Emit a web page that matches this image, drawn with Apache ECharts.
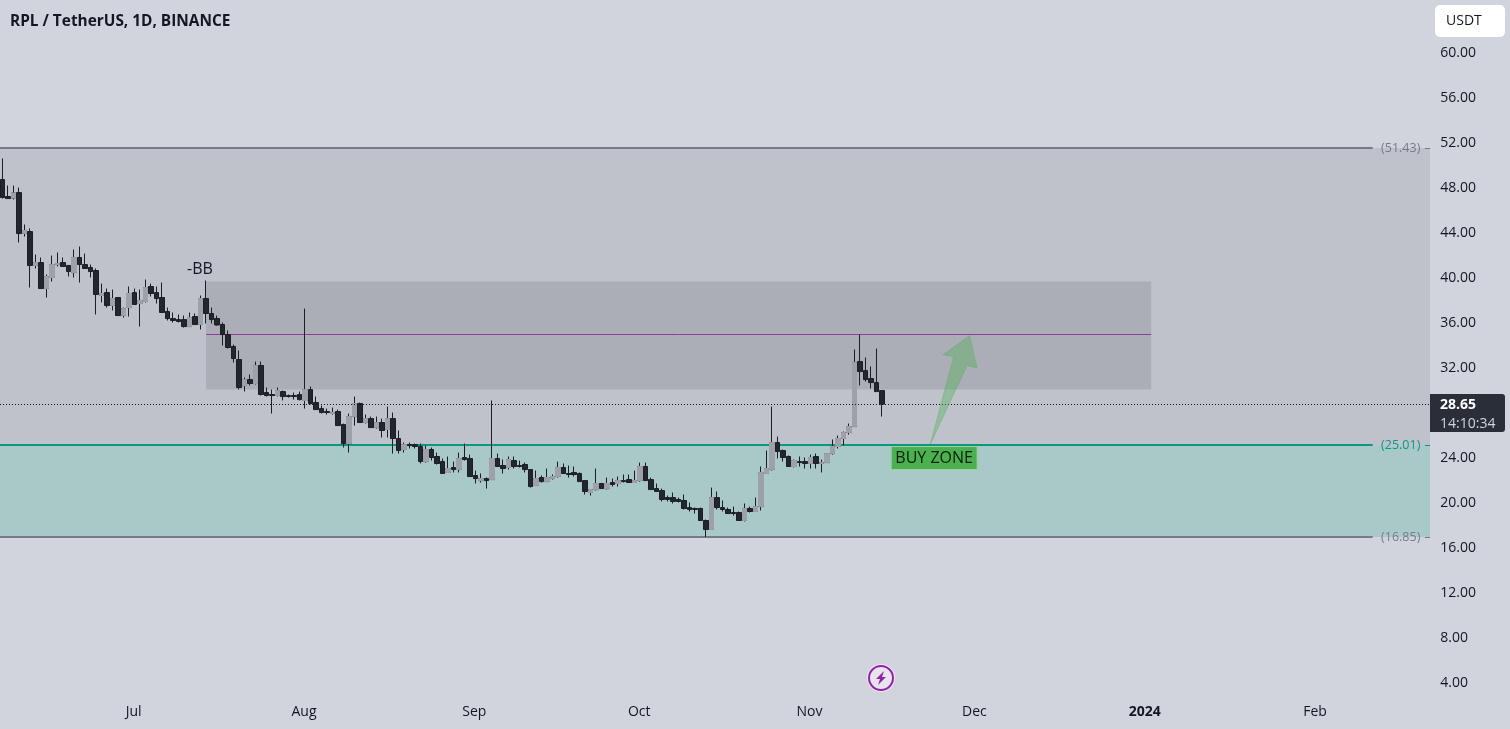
<!DOCTYPE html>
<html>
<head>
<meta charset="utf-8">
<title>RPL / TetherUS</title>
<script src="https://cdn.jsdelivr.net/npm/echarts@6/dist/echarts.min.js"></script>
<style>
  html, body { margin: 0; padding: 0; background: #d1d4dc; }
  #chart { width: 1510px; height: 729px; }
</style>
</head>
<body>
<div id="chart"></div>
<script>
var titleText = "RPL / TetherUS, 1D, BINANCE";

// daily candles from 2023-06-07: open, close, low, high
var ohlc = [
  [48.62,47.02,46.93,50.49],[47.11,46.93,46.93,48.09],[46.98,47.42,46.84,48.09],[47.46,43.82,43.02,47.91],
  [43.82,44.09,43.55,44.62],[44.0,40.98,39.02,44.27],[40.98,41.24,40.71,41.95],[41.24,38.93,38.93,41.69],
  [38.93,40.0,38.13,40.18],[39.91,41.06,39.55,41.86],[41.06,41.15,40.89,42.13],[41.24,40.89,40.89,41.69],
  [40.98,40.44,40.0,40.98],[40.35,41.69,39.91,42.4],[41.69,41.06,39.46,42.66],[41.06,40.71,40.71,42.04],
  [40.8,40.44,39.91,41.06],[40.53,38.4,36.62,40.71],[38.31,38.49,37.69,39.37],[38.57,37.42,37.24,38.93],
  [37.42,38.04,36.98,38.84],[38.13,36.53,36.53,38.13],[36.53,37.15,36.35,37.24],[37.24,38.49,36.44,39.11],
  [38.57,37.51,37.51,38.93],[37.6,37.87,35.55,38.84],[37.78,39.02,37.69,39.73],[39.11,38.49,38.22,39.37],
  [38.57,38.04,37.6,39.11],[38.13,36.8,36.8,39.46],[36.89,36.26,36.09,37.24],[36.26,36.09,35.91,36.8],
  [36.17,36.0,35.91,36.62],[36.17,35.55,35.46,36.53],[35.55,36.35,35.55,36.8],[36.44,35.73,35.73,36.71],
  [35.73,38.04,35.29,38.31],[38.04,36.71,35.82,39.64],[36.71,36.17,35.82,37.24],[36.26,35.69,35.64,36.53],
  [35.73,34.84,33.86,35.91],[34.84,33.69,33.6,35.2],[33.78,32.71,32.35,33.95],[32.62,30.13,29.95,33.42],
  [30.31,30.84,29.78,31.02],[30.84,30.49,30.31,31.29],[30.49,32.09,30.4,32.44],[32.09,29.51,29.42,32.44],
  [29.69,29.42,29.33,30.13],[29.51,29.42,27.82,29.95],[29.42,29.86,29.33,30.13],[29.77,29.33,28.98,29.86],
  [29.42,29.33,29.24,29.51],[29.42,29.33,29.06,29.68],[29.51,29.06,28.98,29.77],[28.98,29.95,28.26,37.15],
  [29.95,28.71,28.62,30.22],[28.8,28.17,28.17,29.33],[28.26,27.91,27.82,28.53],[28.0,27.91,27.73,28.26],
  [27.82,27.91,27.73,28.35],[28.0,26.75,26.75,28.17],[26.84,25.15,24.8,26.93],[25.15,27.55,24.35,27.82],
  [27.55,28.71,26.75,29.33],[28.71,27.02,27.02,28.8],[27.02,27.37,26.93,27.73],[27.37,26.57,26.57,27.55],
  [26.57,27.02,26.48,27.55],[27.02,26.31,25.69,27.37],[26.4,27.37,25.69,28.44],[27.37,25.6,24.26,27.91],
  [25.6,24.53,24.26,26.31],[24.62,25.06,24.35,25.24],[25.06,24.97,24.71,25.24],[25.06,24.89,24.71,25.15],
  [24.89,23.55,23.38,25.15],[23.55,24.62,23.46,24.97],[24.62,23.91,23.64,24.8],[24.0,23.38,23.29,24.35],
  [23.55,22.49,22.49,23.82],[22.58,22.93,22.58,24.0],[23.02,22.84,22.58,23.55],[22.84,23.82,22.58,24.35],
  [23.91,23.73,23.64,25.15],[23.82,22.22,22.22,24.17],[22.31,22.04,21.6,22.75],[21.86,22.04,21.69,22.49],
  [22.04,21.86,21.15,22.13],[21.95,23.82,21.95,28.98],[23.82,23.11,23.11,24.26],[23.2,22.93,22.49,23.73],
  [23.02,23.73,22.84,24.0],[23.64,23.11,22.93,24.0],[23.2,23.11,23.02,23.64],[23.29,22.84,22.58,23.46],
  [22.84,21.33,21.24,22.84],[21.42,22.04,21.42,22.75],[22.13,21.77,21.69,22.31],[21.77,22.13,21.77,22.93],
  [22.04,22.22,21.95,22.4],[22.22,23.02,22.13,23.55],[23.02,22.49,22.49,23.38],[22.49,22.4,22.13,23.2],
  [22.58,22.4,22.22,23.11],[22.49,21.77,21.77,22.58],[21.86,20.89,20.62,21.86],[20.8,21.06,20.53,21.06],
  [21.06,21.6,20.97,22.93],[21.6,21.15,21.15,21.6],[21.15,21.6,21.06,22.13],[21.69,21.51,21.33,22.04],
  [21.6,21.86,21.33,22.22],[21.86,21.77,21.69,22.4],[21.95,21.69,21.69,22.4],[21.69,21.86,21.69,22.75],
  [21.86,23.11,21.77,23.46],[23.11,21.86,21.86,23.46],[21.95,21.06,21.06,22.13],[21.15,20.89,20.89,21.6],
  [20.97,20.18,20.0,21.15],[20.35,20.18,20.0,20.53],[20.35,20.0,19.82,20.8],[20.18,20.0,19.91,20.35],
  [20.09,19.38,19.29,20.62],[19.46,19.29,19.11,19.91],[19.38,19.29,18.93,19.46],[19.38,18.31,18.31,19.46],
  [18.31,17.51,16.85,18.4],[17.51,20.35,17.51,21.24],[20.35,19.46,19.29,20.89],[19.46,19.29,19.11,20.09],
  [19.29,18.93,18.93,19.46],[19.02,18.93,18.75,19.55],[19.02,18.31,18.31,19.11],[18.31,19.38,18.22,19.82],
  [19.38,19.11,19.02,19.55],[19.11,19.55,19.11,20.35],[19.55,22.58,19.2,23.11],[22.49,22.93,22.49,24.53],
  [22.84,25.24,22.75,28.44],[25.24,24.44,23.82,25.77],[24.53,23.91,23.55,24.62],[24.0,23.11,23.11,24.09],
  [23.11,23.64,23.02,23.73],[23.55,23.46,23.11,24.0],[23.55,23.38,22.93,23.91],[23.38,23.91,22.93,24.17],
  [24.0,23.38,22.93,24.26],[23.38,23.46,22.58,23.73],[23.46,24.26,23.46,24.26],[24.26,24.89,24.17,25.51],
  [24.89,25.6,24.71,25.86],[25.6,26.13,25.0,26.22],[26.13,26.66,25.95,26.93],[26.66,32.35,26.66,33.51],
  [32.44,31.55,30.31,34.84],[31.64,30.84,30.66,32.8],[30.93,30.57,30.04,32.0],[30.57,29.77,29.77,33.6],
  [29.86,28.65,27.55,29.86]
];

var tickDates = ["2023-07-01", "2023-08-01", "2023-09-01", "2023-10-01", "2023-11-01", "2023-12-01", "2024-01-01", "2024-02-01"];
var tickNames = ["Jul", "Aug", "Sep", "Oct", "Nov", "Dec", "2024", "Feb"];

// annotations, in day number and price
var plotEnd = 259.73;
var lineEnd = 249.3;
var tickStart = 258.8;
var chartStart = -0.5;
var zones = [
  [chartStart, plotEnd, 51.43, 25.01],
  [chartStart, plotEnd, 25.01, 16.85],
  [37, 209, 39.56, 29.96]
];
var levels = [51.43, 25.01, 16.85];
var midLine = [[37, 209, 34.84]];
var lastPrice = 28.65;
var arrowPoints = [[168.8, 25.11], [173.05, 32.89], [171.1, 33.04], [175.96, 34.75], [177.3, 31.85], [175.5, 32.09]];
var notes = [[35.9, 40.65]];
var buyZone = [169.5, 23.86];

var dates = [];
var d0 = Date.UTC(2023, 5, 7);
for (var i = 0; i < 261; i++) {
  dates.push(new Date(d0 + i * 864e5).toISOString().slice(0, 10));
}
var upBodies = ohlc.map(function (c) {
  return c[1] > c[0] ? [c[0], c[1], c[0], c[1]] : [NaN, NaN, NaN, NaN];
});

var fontName = '"Open Sans", "Noto Sans", sans-serif';
var zoneColors = ["#bfc2cb", "#a8c9c8", "#abaeb7"];
var levelColors = ["#787b86", "#089981", "#787b86"];

function crisp(y) { return Math.round(y - 0.5) + 0.5; }

function renderZone(params, api) {
  var a = api.coord([api.value(0), api.value(2)]);
  var b = api.coord([api.value(1), api.value(3)]);
  return {
    type: "rect",
    shape: { x: a[0], y: a[1], width: b[0] - a[0], height: b[1] - a[1] },
    style: { fill: zoneColors[params.dataIndex] }
  };
}

function renderLevel(params, api) {
  var col = levelColors[params.dataIndex];
  var p = api.value(1);
  var a = api.coord([chartStart, p]);
  var b = api.coord([lineEnd, p]);
  var t0 = api.coord([tickStart, p]);
  var t1 = api.coord([plotEnd, p]);
  var y = Math.round(a[1]);
  return {
    type: "group",
    children: [
      { type: "line", shape: { x1: a[0], y1: y, x2: b[0], y2: y }, style: { stroke: col, lineWidth: 2 } },
      { type: "line", shape: { x1: t0[0], y1: crisp(y), x2: t1[0], y2: crisp(y) }, style: { stroke: col, lineWidth: 1 } },
      { type: "text", x: b[0] + 28, y: y, style: { text: "(" + p.toFixed(2) + ")", fill: col, font: "12.5px " + fontName, align: "center", verticalAlign: "middle" } }
    ]
  };
}

function renderMid(params, api) {
  var a = api.coord([api.value(0), api.value(2)]);
  var b = api.coord([api.value(1), api.value(2)]);
  return { type: "line", shape: { x1: a[0], y1: crisp(a[1]), x2: b[0], y2: crisp(b[1]) }, style: { stroke: "#8e3f9e", lineWidth: 1 } };
}

function renderLast(params, api) {
  var a = api.coord([chartStart, api.value(1)]);
  var b = api.coord([plotEnd, api.value(1)]);
  return { type: "line", shape: { x1: a[0], y1: crisp(a[1]), x2: b[0], y2: crisp(b[1]) }, style: { stroke: "#131722", lineWidth: 1, lineDash: [1, 2] } };
}

function renderArrow(params, api) {
  return {
    type: "polygon",
    shape: { points: arrowPoints.map(function (pt) { return api.coord(pt); }) },
    style: { fill: "rgba(76,175,80,0.38)", stroke: "rgba(76,175,80,0.35)", lineWidth: 1 }
  };
}

function renderNote(params, api) {
  var c = api.coord([api.value(0), api.value(1)]);
  return { type: "text", x: c[0], y: c[1], style: { text: "-BB", fill: "#131722", font: "16px " + fontName, align: "center", verticalAlign: "middle" } };
}

function renderBuy(params, api) {
  var c = api.coord([api.value(0), api.value(1)]);
  return {
    type: "group",
    children: [
      { type: "rect", shape: { x: c[0] - 43, y: c[1] - 11.5, width: 86, height: 23 }, style: { fill: "#4caf50", stroke: "#9fd4a2", lineWidth: 1 } },
      { type: "text", x: c[0], y: c[1], style: { text: "BUY ZONE", fill: "#071f0c", font: "16px " + fontName, align: "center", verticalAlign: "middle" } }
    ]
  };
}

function overlay(name, data, fn, z, dims) {
  return {
    name: name, type: "custom", xAxisIndex: 1, yAxisIndex: 0, data: data, renderItem: fn,
    z: z, silent: true, clip: false, animation: false, encode: dims
  };
}

var option = {
  backgroundColor: "#d1d4dc",
  animation: false,
  title: {
    text: titleText, left: 10, top: 14, padding: 0,
    textStyle: { fontFamily: fontName, fontSize: 15.4, fontWeight: "bold", color: "#131722" }
  },
  grid: { left: -1.25, top: 6.5, width: 1435.5, height: 720 },
  xAxis: [{
    type: "category",
    data: dates,
    boundaryGap: true,
    axisLine: { show: false },
    axisTick: { show: false },
    splitLine: { show: false },
    axisLabel: {
      color: "#131722",
      fontFamily: fontName,
      fontSize: 14,
      margin: -21.5,
      padding: [0, 2, 0, 0],
      interval: function (idx, val) { return tickDates.indexOf(val) >= 0; },
      formatter: function (val) {
        var name = tickNames[tickDates.indexOf(val)];
        return name === "2024" ? "{b|" + name + "}" : name;
      },
      rich: { b: { fontWeight: "bold", fontFamily: fontName, fontSize: 14, color: "#131722" } }
    }
  }, {
    type: "value", show: false, min: -0.5, max: 260.5
  }],
  yAxis: {
    type: "value",
    position: "right",
    min: 0,
    max: 64,
    interval: 4,
    axisLine: { show: false },
    axisTick: { show: false },
    splitLine: { show: false },
    axisLabel: {
      color: "#131722",
      fontFamily: fontName,
      fontSize: 14,
      margin: 6,
      verticalAlign: "top",
      lineHeight: 3,
      formatter: function (v) { return v === 0 || v === 64 || v === 28 ? "" : v.toFixed(2); }
    }
  },
  series: [
    overlay("zones", zones, renderZone, 1, { x: [0, 1], y: [2, 3] }),
    overlay("levels", levels.map(function (p) { return [chartStart, p]; }), renderLevel, 2, { x: 0, y: 1 }),
    overlay("mid", midLine, renderMid, 2, { x: [0, 1], y: 2 }),
    {
      name: "RPLUSDT",
      type: "candlestick",
      data: ohlc,
      barWidth: 5,
      z: 3,
      silent: true,
      itemStyle: { color: "#23262f", color0: "#23262f", borderColor: "#1c1e26", borderColor0: "#1c1e26", borderWidth: 1 }
    },
    {
      name: "up bodies",
      type: "candlestick",
      data: upBodies,
      barWidth: 5,
      z: 4,
      silent: true,
      itemStyle: { color: "#9fa1a9", color0: "#9fa1a9", borderColor: "#9fa1a9", borderColor0: "#9fa1a9", borderWidth: 1 }
    },
    overlay("last", [[chartStart, lastPrice]], renderLast, 5, { x: 0, y: 1 }),
    overlay("arrow", [arrowPoints[0]], renderArrow, 6, { x: 0, y: 1 }),
    overlay("notes", notes, renderNote, 7, { x: 0, y: 1 }),
    overlay("buy", [buyZone], renderBuy, 7, { x: 0, y: 1 })
  ],
  graphic: [
    { type: "rect", z: 20, shape: { x: 1435, y: 5, width: 70, height: 32, r: 5 }, style: { fill: "#ffffff" } },
    { type: "text", z: 21, x: 1446, y: 21, style: { text: "USDT", fill: "#131722", font: "14px " + fontName, verticalAlign: "middle" } },
    { type: "rect", z: 20, shape: { x: 1430, y: 394, width: 75, height: 38, r: [0, 3, 3, 0] }, style: { fill: "#2a2e39" } },
    { type: "text", z: 21, x: 1440, y: 405, style: { text: "28.65", fill: "#ffffff", font: "bold 14px " + fontName, verticalAlign: "middle" } },
    { type: "text", z: 21, x: 1440, y: 424, style: { text: "14:10:34", fill: "#d1d4dc", font: "14px " + fontName, verticalAlign: "middle" } },
    { type: "circle", z: 20, shape: { cx: 881, cy: 678, r: 14 }, style: { fill: "#f3e3f6" } },
    { type: "circle", z: 21, shape: { cx: 881, cy: 678, r: 12 }, style: { fill: "#e9e3ee", stroke: "#8e24aa", lineWidth: 2 } },
    { type: "polygon", z: 22, shape: { points: [[884, 671], [876, 679], [880, 679], [878, 685], [886, 677], [882, 677]] }, style: { fill: "#8e24aa" } }
  ]
};

var chart = echarts.init(document.getElementById("chart"));
chart.setOption(option);
</script>
</body>
</html>
